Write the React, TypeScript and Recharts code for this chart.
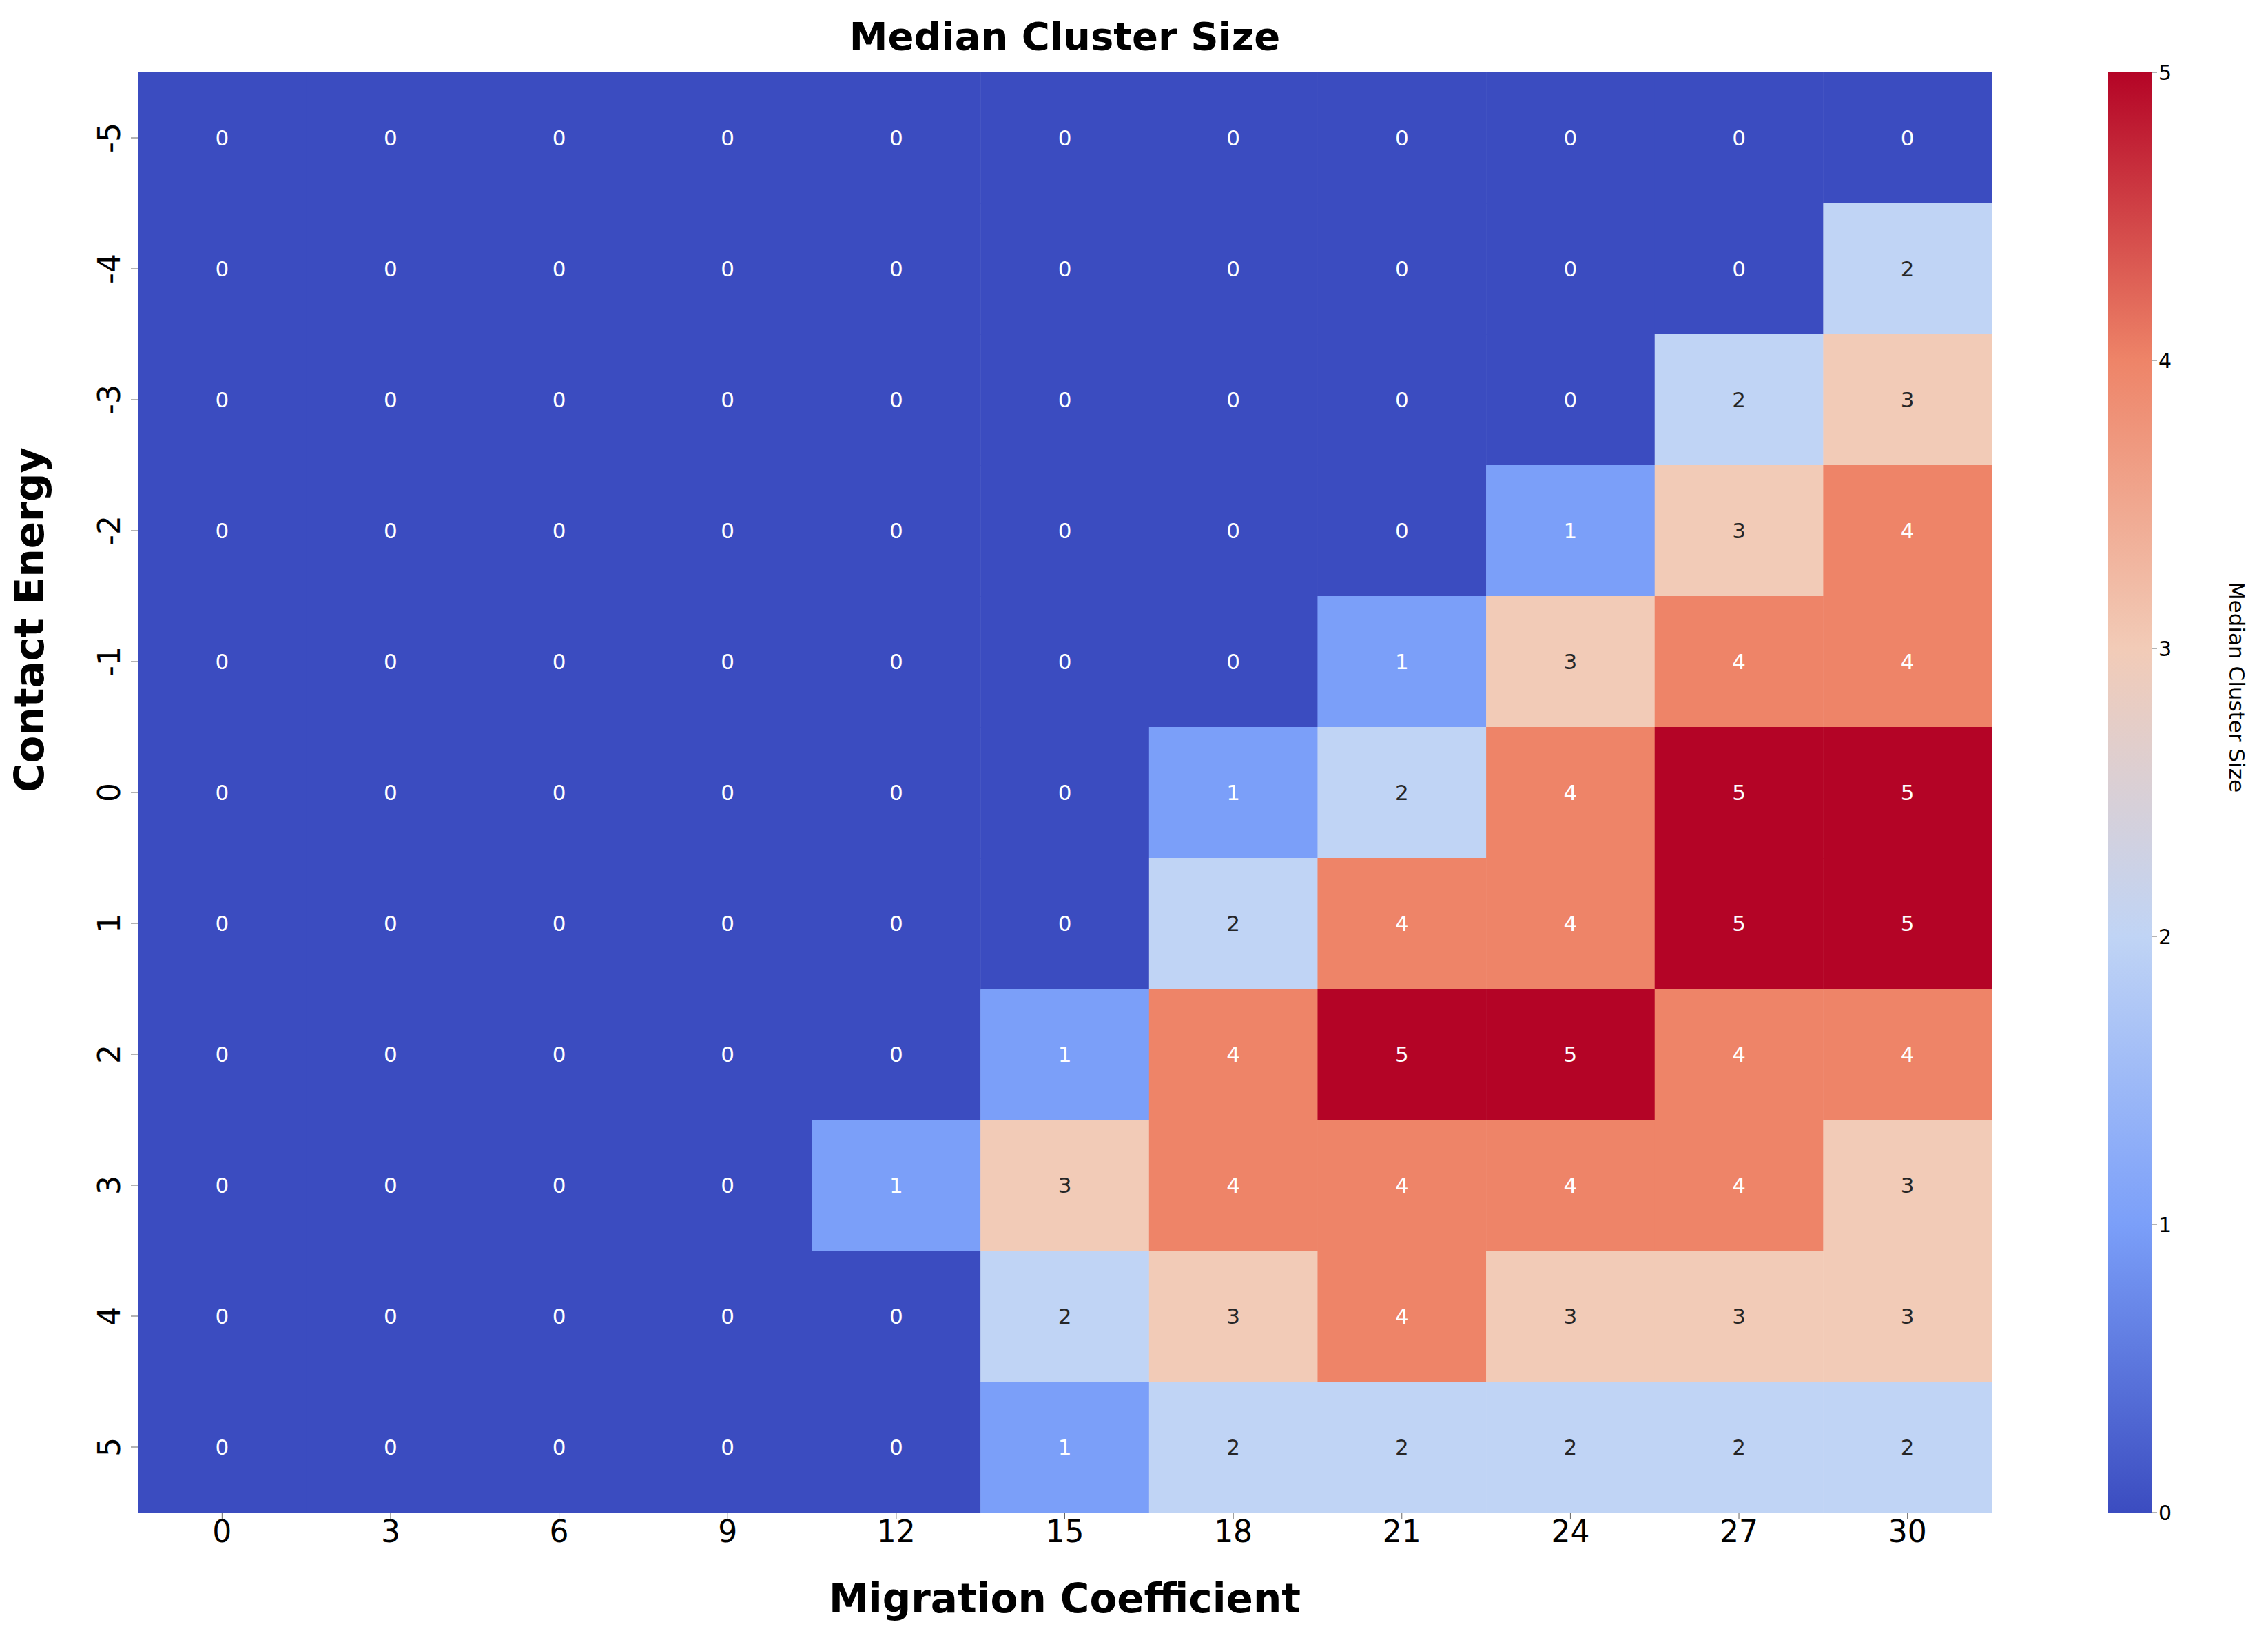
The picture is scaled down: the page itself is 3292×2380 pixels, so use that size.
import React from 'react';
import { ScatterChart, Scatter, XAxis, YAxis, BarChart, Bar } from 'recharts';

const migration = [0, 3, 6, 9, 12, 15, 18, 21, 24, 27, 30];
const energy = [-5, -4, -3, -2, -1, 0, 1, 2, 3, 4, 5];
const values = [
  [0, 0, 0, 0, 0, 0, 0, 0, 0, 0, 0],
  [0, 0, 0, 0, 0, 0, 0, 0, 0, 0, 2],
  [0, 0, 0, 0, 0, 0, 0, 0, 0, 2, 3],
  [0, 0, 0, 0, 0, 0, 0, 0, 1, 3, 4],
  [0, 0, 0, 0, 0, 0, 0, 1, 3, 4, 4],
  [0, 0, 0, 0, 0, 0, 1, 2, 4, 5, 5],
  [0, 0, 0, 0, 0, 0, 2, 4, 4, 5, 5],
  [0, 0, 0, 0, 0, 1, 4, 5, 5, 4, 4],
  [0, 0, 0, 0, 1, 3, 4, 4, 4, 4, 3],
  [0, 0, 0, 0, 0, 2, 3, 4, 3, 3, 3],
  [0, 0, 0, 0, 0, 1, 2, 2, 2, 2, 2],
];
const colorTicks = [0, 1, 2, 3, 4, 5];

const palette = ['#3b4cc0', '#7b9ff9', '#c0d4f5', '#f2cbb7', '#ee8468', '#b40426'];
const textColor = ['#ffffff', '#ffffff', '#262626', '#262626', '#ffffff', '#ffffff'];

const cells = energy.flatMap((e, i) => migration.map((m, j) => ({ x: m, y: e, v: values[i][j] })));

const W = 3000;
const H = 2380;
const M = { top: 105, right: 109, bottom: 0, left: 0 };
const YW = 200;
const XH = 185;
const cellW = (W - M.left - M.right - YW) / 11;
const cellH = (H - M.top - M.bottom - XH) / 11;
const font = 'DejaVu Sans, sans-serif';

const CellShape = (p: any) => {
  const v = p.payload.v;
  return (
    <g>
      <rect x={p.cx - cellW / 2} y={p.cy - cellH / 2} width={cellW + 0.5} height={cellH + 0.5} fill={palette[v]} />
      <text x={p.cx} y={p.cy} textAnchor="middle" dominantBaseline="central" fontSize={31} fill={textColor[v]} fontFamily={font}>
        {v}
      </text>
    </g>
  );
};

const YTick = (p: any) => (
  <text x={p.x - 14} y={p.y} transform={`rotate(-90 ${p.x - 14} ${p.y})`} textAnchor="middle" fontSize={44} fill="#000" fontFamily={font}>
    {p.payload.value}
  </text>
);

export default function App() {
  return (
    <div style={{ position: 'absolute', left: 0, top: 0, width: 3292, height: 2380, background: '#fff' }}>
      <div style={{ position: 'absolute', left: 0, top: 0 }}>
        <ScatterChart width={W} height={H} margin={M}>
          <text x={YW + (W - M.right - YW) / 2} y={72} textAnchor="middle" fontSize={56} fontWeight="bold" fontFamily={font}>
            Median Cluster Size
          </text>
          <XAxis
            type="number"
            dataKey="x"
            domain={[-1.5, 31.5]}
            ticks={migration}
            height={XH}
            axisLine={false}
            tickSize={10}
            tick={{ fontSize: 44, fill: '#000', fontFamily: font }}
            label={{ value: 'Migration Coefficient', position: 'insideBottom', offset: 40, fontSize: 58, fontWeight: 'bold', fill: '#000', fontFamily: font }}
          />
          <YAxis
            type="number"
            dataKey="y"
            domain={[-5.5, 5.5]}
            reversed
            ticks={energy}
            width={YW}
            axisLine={false}
            tickSize={10}
            tick={<YTick />}
            label={{ value: 'Contact Energy', angle: -90, position: 'insideLeft', offset: 42, fontSize: 58, fontWeight: 'bold', fill: '#000', fontFamily: font }}
          />
          <Scatter data={cells} shape={<CellShape />} isAnimationActive={false} />
        </ScatterChart>
      </div>
      <div style={{ position: 'absolute', left: 3060, top: 0 }}>
        <BarChart width={232} height={H} data={[{ n: 'c', v: 5 }]} margin={{ top: 105, bottom: XH, left: 0, right: 0 }} barCategoryGap={0}>
          <defs>
            <linearGradient id="cw" x1="0" y1="1" x2="0" y2="0">
              {palette.map((c, i) => (
                <stop key={i} offset={`${i * 20}%`} stopColor={c} />
              ))}
            </linearGradient>
          </defs>
          <XAxis dataKey="n" hide />
          <YAxis
            orientation="right"
            domain={[0, 5]}
            ticks={colorTicks}
            width={169}
            axisLine={false}
            tickSize={8}
            tick={{ fontSize: 30, fill: '#000', fontFamily: font }}
            label={{ value: 'Median Cluster Size', angle: 90, position: 'insideRight', offset: 45, fontSize: 31, fill: '#000', fontFamily: font }}
          />
          <Bar dataKey="v" fill="url(#cw)" isAnimationActive={false} />
        </BarChart>
      </div>
    </div>
  );
}
